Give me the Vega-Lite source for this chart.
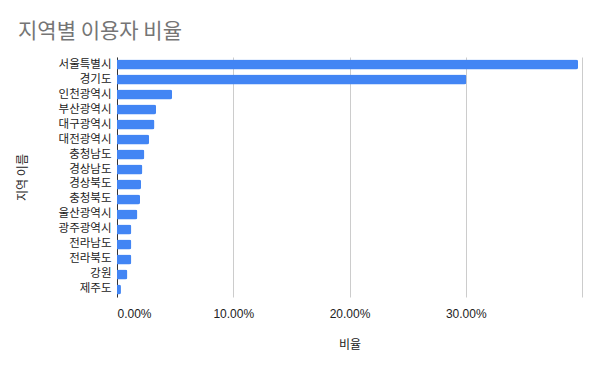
{
  "$schema": "https://vega.github.io/schema/vega-lite/v6.json",
  "autosize": "none",
  "width": 465,
  "height": 240,
  "padding": {"left": 117, "top": 57, "right": 18, "bottom": 74},
  "background": "white",
  "title": {
    "text": "지역별 이용자 비율",
    "anchor": "start",
    "frame": "group",
    "dx": -99,
    "offset": 15,
    "fontSize": 21,
    "fontWeight": "normal",
    "font": "Noto Sans CJK KR",
    "color": "#757575",
    "limit": 0
  },
  "data": {
    "values": [
      {"region": "서울특별시", "ratio": 0.3966},
      {"region": "경기도", "ratio": 0.3005},
      {"region": "인천광역시", "ratio": 0.0474},
      {"region": "부산광역시", "ratio": 0.0336},
      {"region": "대구광역시", "ratio": 0.0322},
      {"region": "대전광역시", "ratio": 0.0276},
      {"region": "충청남도", "ratio": 0.0235},
      {"region": "경상남도", "ratio": 0.0218},
      {"region": "경상북도", "ratio": 0.0207},
      {"region": "충청북도", "ratio": 0.0198},
      {"region": "울산광역시", "ratio": 0.0175},
      {"region": "광주광역시", "ratio": 0.0123},
      {"region": "전라남도", "ratio": 0.0123},
      {"region": "전라북도", "ratio": 0.0123},
      {"region": "강원", "ratio": 0.0089},
      {"region": "제주도", "ratio": 0.0034}
    ]
  },
  "mark": {"type": "bar", "color": "#4285F4", "cornerRadiusEnd": 2},
  "encoding": {
    "y": {
      "field": "region",
      "type": "nominal",
      "sort": null,
      "scale": {"paddingInner": 0.33, "paddingOuter": 0.17},
      "axis": {
        "title": "지역 이름",
        "titleFont": "Noto Sans CJK KR",
        "titleFontSize": 12,
        "titleFontWeight": "normal",
        "titleColor": "#222222",
        "titlePadding": 29,
        "labelFont": "Noto Sans CJK KR",
        "labelFontSize": 11.5,
        "labelColor": "#222222",
        "labelPadding": 6,
        "ticks": false,
        "domainColor": "#333333",
        "domainWidth": 1
      }
    },
    "x": {
      "field": "ratio",
      "type": "quantitative",
      "scale": {"domain": [0, 0.4], "nice": false},
      "axis": {
        "title": "비율",
        "values": [0, 0.1, 0.2, 0.3, 0.4],
        "labelExpr": "datum.value >= 0.399 ? '' : format(datum.value, '.2%')",
        "titleFont": "Noto Sans CJK KR",
        "titleFontSize": 12,
        "titleFontWeight": "normal",
        "titleColor": "#222222",
        "titlePadding": 20,
        "labelFont": "Arial",
        "labelFontSize": 12,
        "labelColor": "#222222",
        "labelPadding": 11,
        "ticks": false,
        "domain": false,
        "grid": true,
        "gridColor": "#cccccc",
        "gridWidth": 1
      }
    }
  },
  "config": {
    "view": {"stroke": null},
    "axisY": {"grid": false}
  }
}
